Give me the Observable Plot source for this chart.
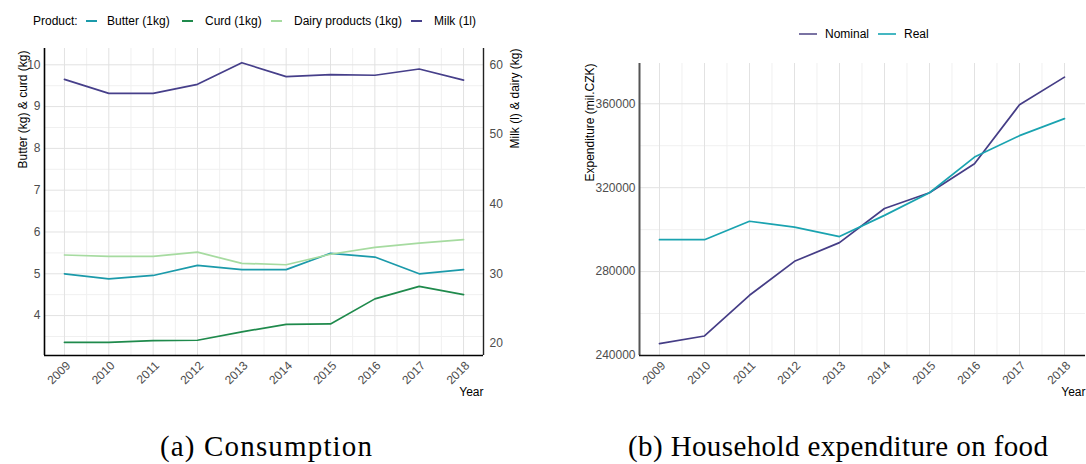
<!DOCTYPE html>
<html><head><meta charset="utf-8">
<script src="https://cdn.jsdelivr.net/npm/d3@7"></script>
<script src="https://cdn.jsdelivr.net/npm/@observablehq/plot@0.6"></script>
<style>
body{margin:0;background:#fff;}
#root{position:relative;width:1086px;height:464px;overflow:hidden;font-family:"Liberation Sans",Arial,sans-serif;background:#fff;}
.plotbox{position:absolute;}
.lt{position:absolute;font-size:12px;color:#000;white-space:nowrap;line-height:14px;height:14px;}
.sw{position:absolute;height:2px;}
#caps{position:absolute;left:0;top:420px;}
</style></head><body><div id="root"></div>
<script>
// ---------- data ----------
const years = [2009, 2010, 2011, 2012, 2013, 2014, 2015, 2016, 2017, 2018];
const products = ["Butter (1kg)", "Curd (1kg)", "Dairy products (1kg)", "Milk (1l)"];
const productColors = ["#1b9aaa", "#1f8a4c", "#a6dba0", "#463f8a"];
const butter = [5.00, 4.88, 4.96, 5.20, 5.10, 5.10, 5.49, 5.40, 5.00, 5.10];   // kg (left axis)
const curd   = [3.36, 3.36, 3.40, 3.41, 3.61, 3.79, 3.80, 4.40, 4.70, 4.50];   // kg (left axis)
const dairy  = [32.7, 32.5, 32.5, 33.1, 31.5, 31.3, 32.8, 33.8, 34.4, 34.9];   // kg (right axis)
const milk   = [57.9, 55.9, 55.9, 57.2, 60.3, 58.3, 58.6, 58.5, 59.4, 57.8];   // l  (right axis)
const secFactor = 6; // right axis = 6 x left axis
const leftTicks = [4, 5, 6, 7, 8, 9, 10];
const leftMinor = [3.5, 4.5, 5.5, 6.5, 7.5, 8.5, 9.5];
const rightTicks = [20, 30, 40, 50, 60];

const series = ["Nominal", "Real"];
const seriesColors = ["#453d86", "#1aa3b0"];
const legendColors = ["#7a73a3", "#45b7c2"];
const nominal = [245700, 249300, 268700, 284900, 293800, 310100, 317600, 331400, 359500, 372700];
const real    = [295200, 295200, 304000, 301200, 296700, 306800, 317600, 334600, 344800, 352900];
const expTicks = [240000, 280000, 320000, 360000];
const expMinor = [260000, 300000, 340000];

const minorYears = years.slice(0, -1).map(y => y + 0.5);

// ---------- tables ----------
const consumption = [];
years.forEach((y, i) => {
  consumption.push({year: y, product: products[0], v: butter[i]});
  consumption.push({year: y, product: products[1], v: curd[i]});
  consumption.push({year: y, product: products[2], v: dairy[i] / secFactor});
  consumption.push({year: y, product: products[3], v: milk[i] / secFactor});
});
const expenditure = [];
years.forEach((y, i) => {
  expenditure.push({year: y, s: series[0], v: nominal[i]});
  expenditure.push({year: y, s: series[1], v: real[i]});
});

const root = document.getElementById("root");
const font = {fontFamily: "'Liberation Sans', Arial, sans-serif", fontSize: "12px", background: "#fff", overflow: "visible"};
const tickFill = "#4d4d4d";
const majorGrid = "#e2e2e2", minorGrid = "#f0f0f0";
const xAxisOpts = {anchor: "bottom", tickSize: 0, tickPadding: 8, dx: 4, tickRotate: -45, fill: tickFill, fontSize: 12, label: null, tickFormat: d => String(d)};

// ---------- left chart ----------
const lx = [2008.55, 2018.45], ly = [3.045, 10.39];
const leftPlot = Plot.plot({
  width: 543, height: 375, marginTop: 18, marginBottom: 50, marginLeft: 44, marginRight: 60,
  style: font,
  x: {type: "linear", domain: lx, axis: null},
  y: {domain: ly, axis: null},
  color: {domain: products, range: productColors},
  marks: [
    Plot.ruleX(minorYears, {stroke: minorGrid}),
    Plot.ruleY(leftMinor, {stroke: minorGrid}),
    Plot.ruleX(years, {stroke: majorGrid}),
    Plot.ruleY(leftTicks, {stroke: majorGrid}),
    Plot.line(consumption, {x: "year", y: "v", z: "product", stroke: "product", strokeWidth: 1.7}),
    Plot.ruleX([lx[0]], {stroke: "#000", strokeWidth: 1.6}),
    Plot.ruleX([lx[1]], {stroke: "#222", strokeWidth: 1.4}),
    Plot.ruleY([ly[0]], {stroke: "#000", strokeWidth: 1.6}),
    Plot.axisY(leftTicks, {anchor: "left", tickSize: 0, tickPadding: 4, fill: tickFill, fontSize: 12, label: null}),
    Plot.axisY(rightTicks.map(t => t / secFactor), {anchor: "right", tickSize: 0, tickPadding: 6, fill: tickFill, fontSize: 12, label: null, tickFormat: d => String(Math.round(d * secFactor))}),
    Plot.axisX(years, xAxisOpts),
    Plot.text(["Butter (kg) & curd (kg)"], {frameAnchor: "top-left", rotate: -90, textAnchor: "end", dx: -26, dy: 2, fill: "#000", fontSize: 12}),
    Plot.text(["Milk (l) & dairy (kg)"], {frameAnchor: "top-right", rotate: -90, textAnchor: "end", dx: 27, dy: 0, fill: "#000", fontSize: 12}),
    Plot.text(["Year"], {frameAnchor: "bottom-right", textAnchor: "end", dy: 40, fill: "#000", fontSize: 12})
  ]
});
const lb = document.createElement("div");
lb.className = "plotbox"; lb.style.left = "0px"; lb.style.top = "30px";
lb.appendChild(leftPlot); root.appendChild(lb);

// ---------- right chart ----------
const rx = [2008.556, 2018.467], ry = [240000, 379200];
const rightPlot = Plot.plot({
  width: 543, height: 375, marginTop: 33, marginBottom: 50, marginLeft: 96, marginRight: 1,
  style: font,
  x: {type: "linear", domain: rx, axis: null},
  y: {domain: ry, axis: null},
  color: {domain: series, range: seriesColors},
  marks: [
    Plot.ruleX(minorYears, {stroke: minorGrid}),
    Plot.ruleY(expMinor, {stroke: minorGrid}),
    Plot.ruleX(years, {stroke: majorGrid}),
    Plot.ruleY(expTicks, {stroke: majorGrid}),
    Plot.line(expenditure, {x: "year", y: "v", z: "s", stroke: "s", strokeWidth: 1.7}),
    Plot.ruleX([rx[0]], {stroke: "#555", strokeWidth: 2}),
    Plot.ruleY([ry[0]], {stroke: "#111", strokeWidth: 1.6}),
    Plot.axisY(expTicks, {anchor: "left", tickSize: 0, tickPadding: 4, fill: tickFill, fontSize: 12, label: null, tickFormat: d => String(d)}),
    Plot.axisX(years, xAxisOpts),
    Plot.text(["Expenditure (mil.CZK)"], {frameAnchor: "top-left", rotate: -90, textAnchor: "end", dx: -54, dy: 0, fill: "#000", fontSize: 12}),
    Plot.text(["Year"], {frameAnchor: "bottom-right", textAnchor: "end", dy: 40, fill: "#000", fontSize: 12})
  ]
});
const rb = document.createElement("div");
rb.className = "plotbox"; rb.style.left = "543px"; rb.style.top = "30px";
rb.appendChild(rightPlot); root.appendChild(rb);

// ---------- legends (HTML, placed item by item) ----------
function legendText(text, x, cy) {
  const t = document.createElement("div"); t.className = "lt"; t.textContent = text;
  t.style.left = x + "px"; t.style.top = (cy - 7) + "px"; root.appendChild(t);
}
function legendSwatch(color, x, w, cy) {
  const s = document.createElement("div"); s.className = "sw";
  s.style.left = x + "px"; s.style.width = w + "px"; s.style.top = (cy - 1) + "px"; s.style.background = color;
  root.appendChild(s);
}
const leftLegendSw = [86, 182, 271, 411], leftLegendTx = [107, 205, 294, 434];
legendText("Product:", 33, 21);
products.forEach((p, i) => { legendSwatch(productColors[i], leftLegendSw[i], 11, 21); legendText(p, leftLegendTx[i], 21); });
const rightLegendSw = [799, 878], rightLegendTx = [825, 904];
series.forEach((s, i) => { legendSwatch(legendColors[i], rightLegendSw[i], 18, 34); legendText(s, rightLegendTx[i], 34); });

// ---------- captions ----------
const ns = "http://www.w3.org/2000/svg";
const capSvg = document.createElementNS(ns, "svg");
capSvg.setAttribute("id", "caps"); capSvg.setAttribute("width", "1086"); capSvg.setAttribute("height", "44");
[["(a) Consumption", 160, 212], ["(b) Household expenditure on food", 628, 420]].forEach(([txt, x, w]) => {
  const t = document.createElementNS(ns, "text");
  t.textContent = txt;
  t.setAttribute("x", x); t.setAttribute("y", 36);
  t.setAttribute("textLength", w); t.setAttribute("lengthAdjust", "spacing");
  t.setAttribute("font-family", "'Liberation Serif', 'Times New Roman', serif");
  t.setAttribute("font-size", "29"); t.setAttribute("fill", "#000");
  capSvg.appendChild(t);
});
root.appendChild(capSvg);
</script></body></html>
